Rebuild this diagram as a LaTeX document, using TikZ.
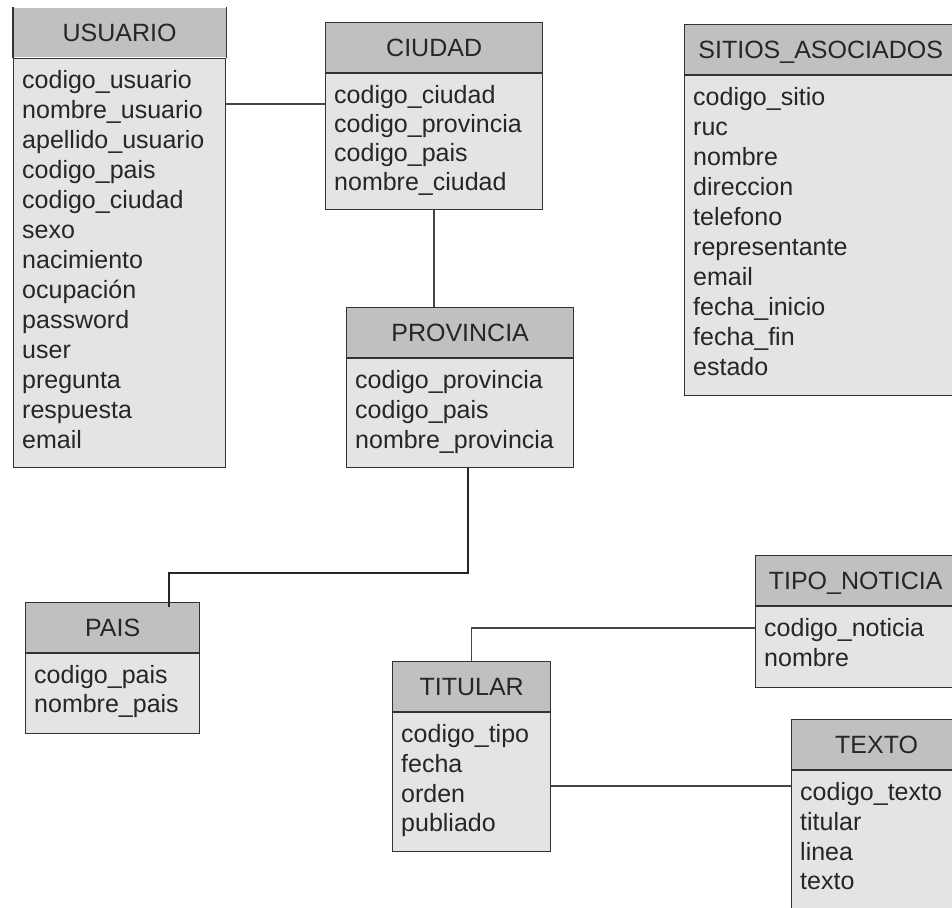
\documentclass[tikz,border=0pt]{standalone}
\usepackage{fontspec}
\setmainfont{Liberation Sans}
\usetikzlibrary{calc}

\definecolor{hdrfill}{RGB}{192,192,192}
\definecolor{bodyfill}{RGB}{228,228,228}
\definecolor{edge}{RGB}{50,50,50}
\definecolor{ink}{RGB}{38,38,38}
\definecolor{linkgray}{RGB}{70,70,70}

\tikzset{
  hdr/.style={draw=edge, line width=1.3pt, fill=hdrfill, inner sep=0pt,
    minimum height=49.5pt, text height=18pt, text depth=0pt, text=ink},
  bdy/.style={draw=edge, line width=1.3pt, fill=bodyfill, inner sep=0pt},
  fld/.style={inner sep=0pt, text=ink},
  link/.style={draw=linkgray, line width=1.4pt},
  strong link/.style={draw=black!85, line width=2.2pt},
}

% #1 name, #2 title, #3 x, #4 top, #5 width, #6 body height,
% #7 row spacing, #8 fields, #9 extra header options
\newcommand{\erentity}[9]{%
  \node[hdr, minimum width=#5pt, anchor=north west, #9] (#1-h) at (#3,#4) {#2};
  \node[bdy, minimum width=#5pt, minimum height=#6pt, anchor=north west] (#1) at (#1-h.south west) {};
  \foreach \f [count=\i from 0] in {#8}
    \node[fld, anchor=base west] (#1-f\i) at ($(#1.north west)+(9,31+#7*\i)$) {\f};
}

\begin{document}
\begin{tikzpicture}[x=1pt, y=-1pt, font=\fontsize{25}{30}\selectfont]
\useasboundingbox (0,0) rectangle (952,907);
\clip (0,0) rectangle (952,907);
\fill[white] (0,0) rectangle (952,907);

\erentity{usuario}{USUARIO}{13}{7}{212}{409}{30}{codigo\_usuario,nombre\_usuario,apellido\_usuario,codigo\_pais,codigo\_ciudad,sexo,nacimiento,ocupación,password,user,pregunta,respuesta,email}{draw=none}
\draw[draw=edge, line width=1.3pt] (usuario-h.north west) -- (usuario-h.south west)
  (usuario-h.north east) -- (usuario-h.south east);

\erentity{ciudad}{CIUDAD}{325}{22}{217}{136}{29}{codigo\_ciudad,codigo\_provincia,codigo\_pais,nombre\_ciudad}{}

\erentity{provincia}{PROVINCIA}{346}{307}{227}{109}{30}{codigo\_provincia,codigo\_pais,nombre\_provincia}{}

\erentity{sitios}{SITIOS\_ASOCIADOS}{684}{24}{272}{320}{30}{codigo\_sitio,ruc,nombre,direccion,telefono,representante,email,fecha\_inicio,fecha\_fin,estado}{}

\erentity{pais}{PAIS}{25}{602}{174}{80}{29}{codigo\_pais,nombre\_pais}{}

\erentity{tipo}{TIPO\_NOTICIA}{755}{555}{200}{81}{30}{codigo\_noticia,nombre}{}

\erentity{titular}{TITULAR}{392}{661}{158}{139}{29.7}{codigo\_tipo,fecha,orden,publiado}{}

\erentity{texto}{TEXTO}{791}{719}{170}{146}{29.7}{codigo\_texto,titular,linea,texto}{}

% relationships
\draw[link] (usuario.east |- ciudad-f0.base) -- (ciudad.west |- ciudad-f0.base);
\draw[link] (ciudad.south) -- (ciudad.south |- provincia-h.north);
\draw[strong link] ($(provincia.south)+(7.5,0)$) |- ($(pais-h.north west)+(144,-29)$)
  -- ($(pais-h.north west)+(144,5)$);
\draw[link] (titular-h.north) |- ($(tipo.north west)+(0,22)$);
\path ($(texto.north west)+(0,16)$) coordinate (tx);
\draw[link] (titular.east |- tx) -- (tx);
\end{tikzpicture}
\end{document}
